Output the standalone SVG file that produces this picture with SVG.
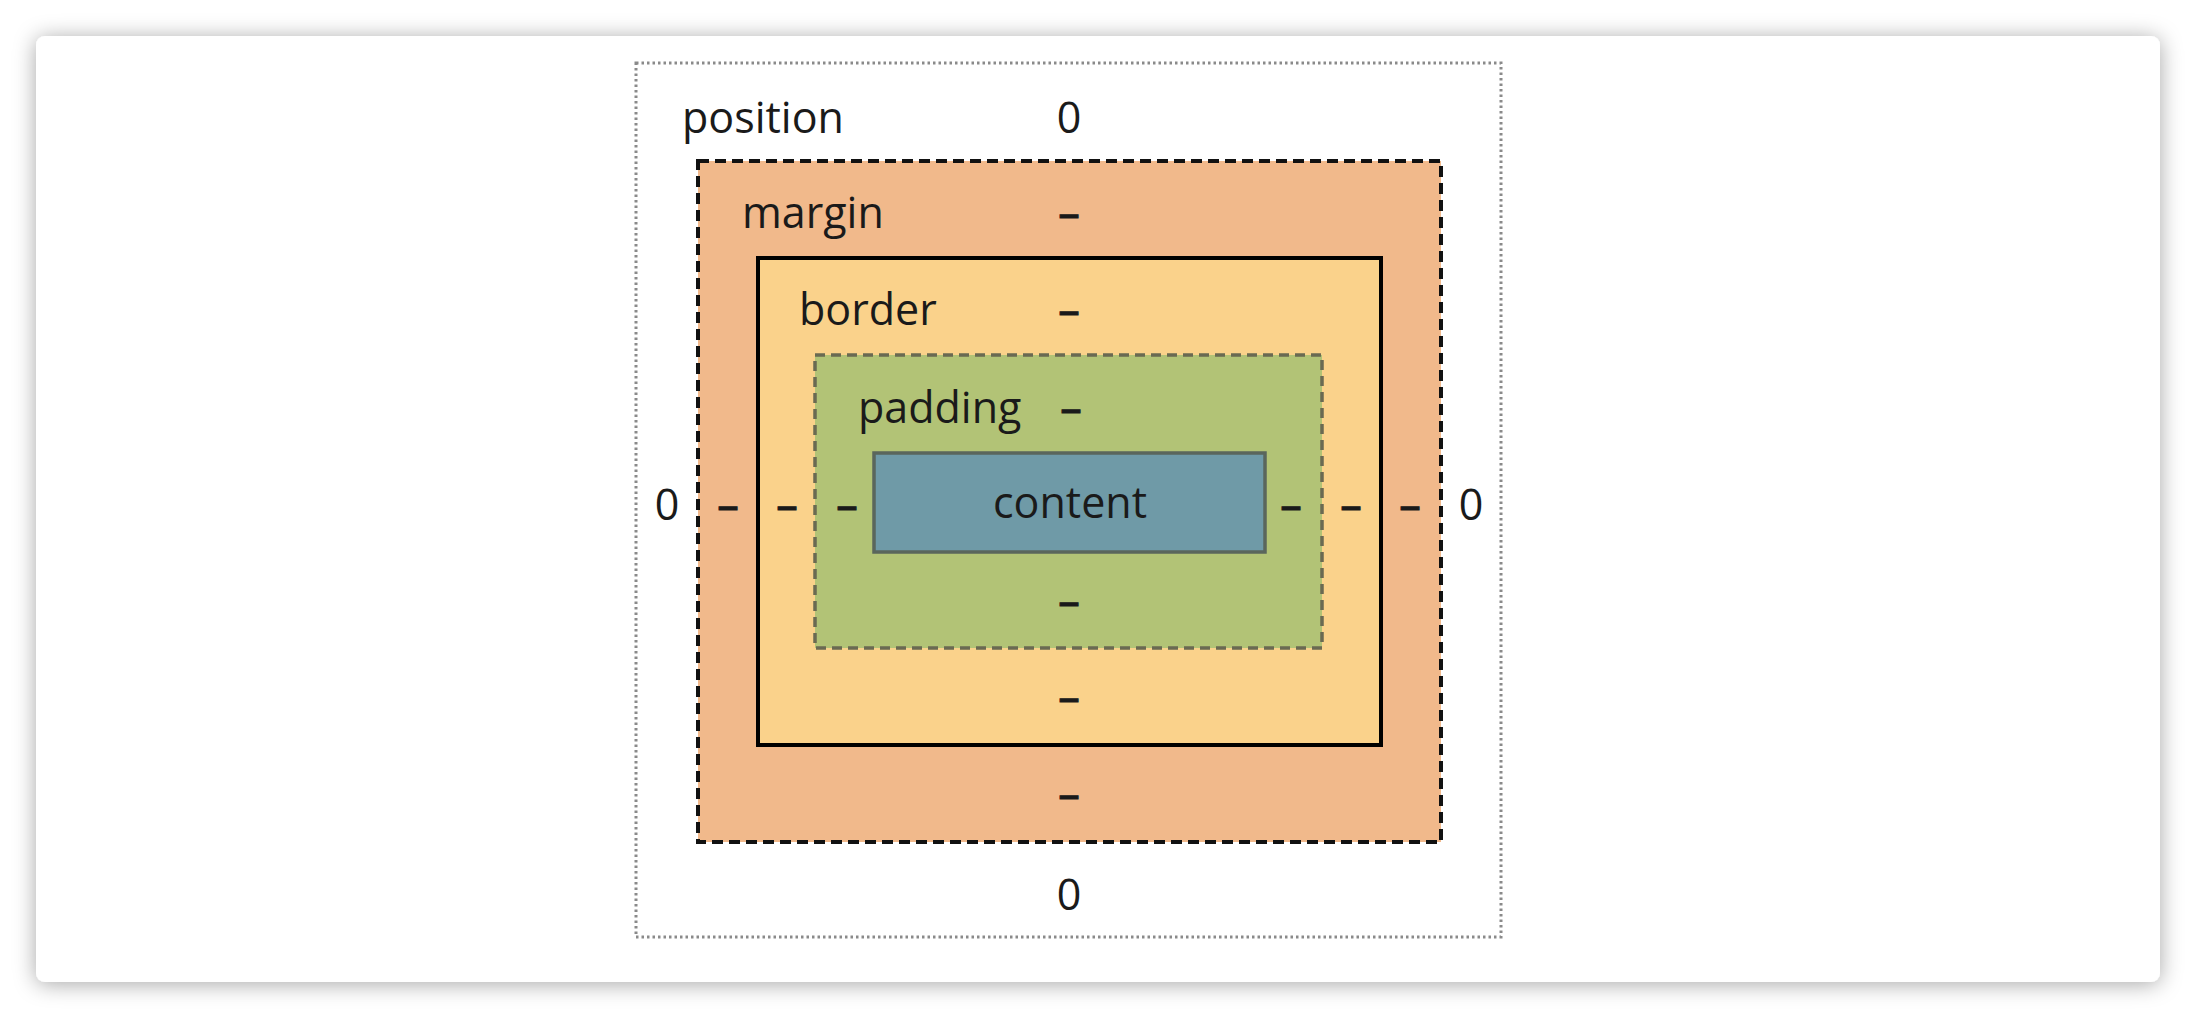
<svg xmlns="http://www.w3.org/2000/svg" width="2196" height="1018" viewBox="0 0 2196 1018">
<defs>
<filter id="shadow" x="-10%" y="-10%" width="120%" height="120%">
<feDropShadow dx="0" dy="2" stdDeviation="11" flood-color="#000" flood-opacity="0.35"/>
</filter>
</defs>
<style>
text{font-family:"Open Sans","Noto Sans","DejaVu Sans",sans-serif;font-size:43px;fill:#1a1a1a}
.c{text-anchor:middle}
.d{text-anchor:middle;stroke:#1a1a1a;stroke-width:1}
.outer{fill:none;stroke:#8a8a8a;stroke-width:3;stroke-dasharray:2.5 3}
.margin{fill:#F1B98B;stroke:#111;stroke-width:4;stroke-dasharray:11 6}
.border{fill:#FAD28B;stroke:#000;stroke-width:4}
.padding{fill:#B2C376;stroke:#6a6a52;stroke-width:3.5;stroke-dasharray:10 6}
.content{fill:#6F9AA7;stroke:#5a665c;stroke-width:3.5}
</style>
<rect x="0" y="0" width="2196" height="1018" fill="#ffffff"/>
<rect id="card" x="36" y="36" width="2124" height="946" rx="9" fill="#ffffff" filter="url(#shadow)"/>
<g id="position">
<rect class="outer" x="636" y="63" width="865" height="874"/>
<text x="682" y="133">position</text>
<text class="c" x="1069" y="133">0</text>
<text class="c" x="667" y="520">0</text>
<text class="c" x="1471" y="520">0</text>
<text class="c" x="1069" y="910">0</text>
</g>
<g id="margin">
<rect class="margin" x="698" y="161" width="743" height="681"/>
<text x="742" y="228">margin</text>
<text class="d" x="1069" y="228">–</text>
<text class="d" x="728" y="520">–</text>
<text class="d" x="1410" y="520">–</text>
<text class="d" x="1069" y="809">–</text>
</g>
<g id="border">
<rect class="border" x="758" y="258" width="623" height="487"/>
<text x="799" y="325">border</text>
<text class="d" x="1069" y="325">–</text>
<text class="d" x="787" y="520">–</text>
<text class="d" x="1351" y="520">–</text>
<text class="d" x="1069" y="712">–</text>
</g>
<g id="padding">
<rect class="padding" x="815" y="355" width="507" height="293"/>
<text x="858" y="423">padding</text>
<text class="d" x="1071" y="423">–</text>
<text class="d" x="847" y="520">–</text>
<text class="d" x="1291" y="520">–</text>
<text class="d" x="1069" y="616">–</text>
</g>
<g id="content">
<rect class="content" x="874" y="453" width="391" height="99"/>
<text class="c" x="1070" y="518">content</text>
</g>
<g id="connectors"></g>
</svg>
